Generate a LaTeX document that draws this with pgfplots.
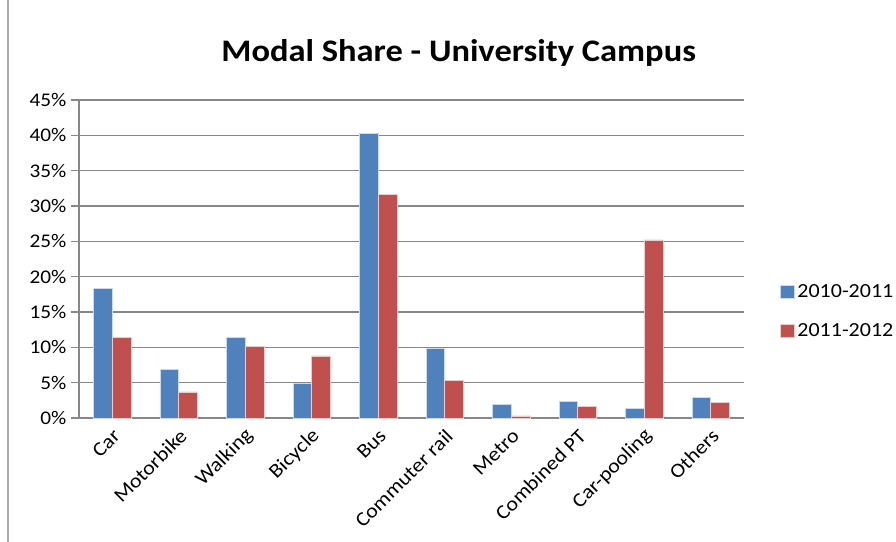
\documentclass[border=0pt]{standalone}
\usepackage{fontspec}
\setmainfont{Carlito}[FakeStretch=1.1]
\usepackage{pgfplots}
\pgfplotsset{compat=1.18}
\definecolor{xblue}{HTML}{4F81BD}
\definecolor{xred}{HTML}{C0504D}
\definecolor{xgrid}{HTML}{878787}
\begin{document}
\begin{tikzpicture}
\path[use as bounding box] (0,0) rectangle (672pt,406.5pt);
\draw[xgrid!70,line width=1pt] (6pt,0) -- (6pt,406.5pt);
\node[font=\fontsize{23.5pt}{28pt}\selectfont\bfseries] at (344pt,367pt) {Modal Share - University Campus};
\begin{axis}[
  at={(59.25pt,93pt)}, anchor=south west,
  scale only axis, width=498.75pt, height=238.5pt,
  ybar=0pt, bar width=13.9pt,
  xmin=-0.5, xmax=9.5, ymin=0, ymax=45,
  axis lines=left, axis line style={xgrid, line width=1.2pt, -},
  xtick={0,...,9},
  xticklabels={Car,Motorbike,Walking,Bicycle,Bus,Commuter rail,Metro,Combined PT,Car-pooling,Others},
  x tick label style={rotate=45, anchor=east, font=\fontsize{15pt}{17pt}\selectfont, inner sep=1pt, yshift=-6pt},
  major x tick style={draw=none},
  extra x ticks={-0.5,0.5,...,9.5}, extra x tick labels={},
  extra x tick style={major tick length=6pt, tick style={xgrid, line width=1.2pt}, tick align=outside, grid=none},
  ytick={0,5,...,45},
  yticklabel={\pgfmathprintnumber{\tick}\%},
  y tick label style={font=\fontsize{14.5pt}{16pt}\selectfont},
  /pgf/number format/assume math mode=true,
  ymajorgrids, grid style={xgrid, line width=1.2pt},
  major y tick style={xgrid, line width=1.2pt}, tick align=outside, major tick length=6pt,
  legend style={at={(1.054,0.43)}, anchor=north west, draw=none, font=\fontsize{15pt}{17pt}\selectfont, row sep=14pt, inner sep=0pt},
  legend cell align=left,
  legend image code/.code={\fill[#1] (0pt,-4.8pt) rectangle (10.5pt,4.8pt);},
  clip=false,
]
\addplot[fill=xblue, draw=white!70!xblue, line width=0.4pt] coordinates {(0,18.3) (1,6.9) (2,11.4) (3,4.9) (4,40.3) (5,9.9) (6,1.9) (7,2.4) (8,1.4) (9,2.9)};
\addplot[fill=xred, draw=white!70!xred, line width=0.4pt] coordinates {(0,11.4) (1,3.7) (2,10.1) (3,8.8) (4,31.6) (5,5.3) (6,0.3) (7,1.6) (8,25.2) (9,2.2)};
\legend{2010-2011,2011-2012}
\end{axis}
\end{tikzpicture}
\end{document}
